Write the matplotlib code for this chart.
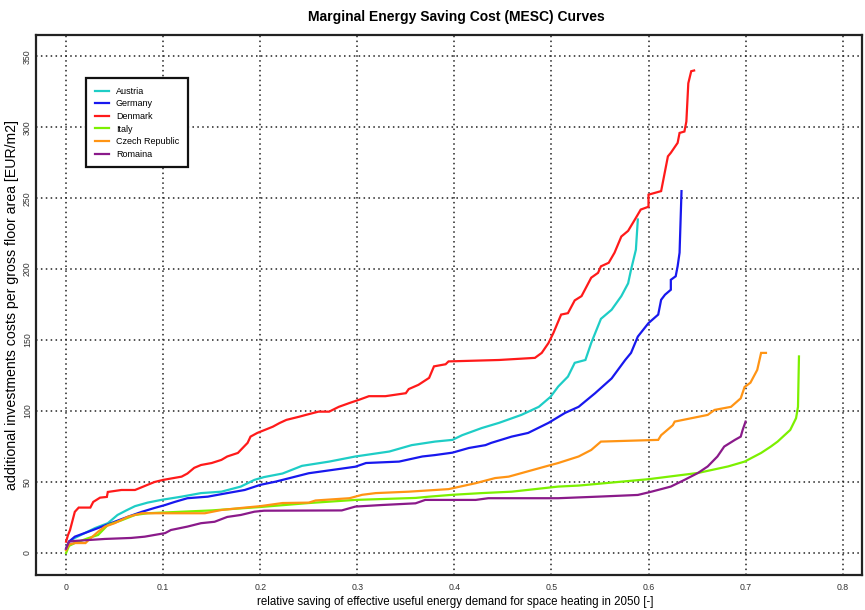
import matplotlib
matplotlib.use("Agg")
import matplotlib.pyplot as plt

# Relative saving (x) and marginal investment cost in EUR/m2 (y) per country
austria_x = [0.0, 0.003, 0.009, 0.03, 0.043, 0.053, 0.062, 0.071, 0.084, 0.098, 0.119, 0.139, 0.16, 0.18,
             0.194, 0.204, 0.223, 0.243, 0.271, 0.298, 0.333, 0.356, 0.38, 0.398, 0.408, 0.428, 0.446,
             0.469, 0.487, 0.499, 0.507, 0.517, 0.524, 0.535, 0.541, 0.551, 0.562, 0.572, 0.579, 0.582,
             0.587, 0.589]
austria_y = [3, 8, 10.6, 17.6, 21, 26.8, 30, 33, 35.5, 37.4, 39.7, 42.2, 43.2, 46.8,
             51.5, 53.5, 56, 61.4, 64.4, 68, 71.5, 76, 78.5, 79.7, 83, 88, 91.7,
             97.3, 103, 110, 117.3, 124.3, 134, 136, 148, 165, 171.4, 181, 190, 199.6,
             213.7, 235]

germany_x = [0.0, 0.003, 0.009, 0.023, 0.037, 0.05, 0.064, 0.078, 0.091, 0.102, 0.112, 0.125, 0.146, 0.166,
             0.184, 0.2, 0.216, 0.25, 0.274, 0.298, 0.309, 0.343, 0.367, 0.38, 0.398, 0.415, 0.432,
             0.438, 0.459, 0.476, 0.497, 0.514, 0.528, 0.545, 0.562, 0.576, 0.582, 0.589, 0.6, 0.61,
             0.613, 0.617, 0.623, 0.623, 0.628, 0.63, 0.632, 0.634]
germany_y = [3, 8, 11.5, 15, 18.6, 22, 25.6, 29, 31.7, 33.8, 36, 38.6, 39.7, 42.2,
             44.4, 48, 50.3, 56.2, 58.5, 60.8, 63.4, 64.4, 68, 69, 70.7, 74, 76,
             77.6, 82, 84.6, 91.7, 98.7, 103, 112.6, 123, 136, 141, 152.5, 162, 168,
             178.4, 182, 185.5, 192.5, 195, 202, 211.6, 255]

denmark_x = [0.0, 0.002, 0.004, 0.009, 0.013, 0.025, 0.028, 0.035, 0.042, 0.043, 0.057, 0.071, 0.081, 0.091,
             0.1, 0.119, 0.125, 0.132, 0.139, 0.15, 0.16, 0.166, 0.177, 0.187, 0.19, 0.197, 0.213,
             0.22, 0.227, 0.24, 0.247, 0.26, 0.271, 0.281, 0.292, 0.302, 0.312, 0.329, 0.35, 0.353,
             0.363, 0.374, 0.379, 0.391, 0.394, 0.446, 0.483, 0.49, 0.497, 0.502, 0.51, 0.517,
             0.524, 0.531, 0.541, 0.548, 0.551, 0.559, 0.565, 0.572, 0.579, 0.586, 0.592, 0.6,
             0.6, 0.613, 0.62, 0.623, 0.63, 0.632, 0.637, 0.639, 0.641, 0.644, 0.647]
denmark_y = [8, 12.7, 16, 29, 32, 32, 36, 39, 39.5, 43, 44.4, 44.4, 47.2, 50,
             51.5, 53.8, 56, 60, 62, 63.4, 65.6, 68, 70.5, 77.6, 82, 84.6, 89,
             91.6, 93.8, 96, 97.3, 99.6, 99.6, 103, 105.7, 108, 110.5, 110.5, 112.6, 115.5,
             118.5, 123.4, 131.5, 133, 135, 136, 137.5, 141, 148, 155, 168, 169,
             178, 181, 194, 197.4, 202, 204.5, 211.6, 223, 227, 235, 242, 244,
             252.5, 255, 279.5, 282, 289, 296, 297, 304, 331, 339.5, 340]

italy_x = [0.0, 0.003, 0.009, 0.023, 0.033, 0.043, 0.057, 0.071, 0.084, 0.1, 0.15, 0.2, 0.25, 0.298,
           0.36, 0.374, 0.398, 0.428, 0.459, 0.507, 0.528, 0.6, 0.651, 0.682, 0.699, 0.716,
           0.726, 0.733, 0.746, 0.752, 0.754, 0.755]
italy_y = [0, 5, 7, 10.5, 12.7, 19.7, 23, 26.8, 28, 28.5, 30, 32.4, 35.2, 37.4,
           38.8, 39.7, 41, 42.2, 43.2, 46.8, 47.5, 52, 56.4, 61, 64.4, 70.5,
           75, 78.5, 86.7, 95, 103, 138.5]

czech_x = [0.0, 0.003, 0.009, 0.02, 0.023, 0.033, 0.04, 0.05, 0.064, 0.078, 0.098, 0.143, 0.16, 0.18,
           0.2, 0.223, 0.25, 0.257, 0.292, 0.305, 0.319, 0.353, 0.394, 0.422, 0.442, 0.456, 0.494,
           0.507, 0.528, 0.541, 0.551, 0.61, 0.613, 0.625, 0.627, 0.661, 0.668, 0.685, 0.695,
           0.699, 0.705, 0.712, 0.716, 0.721]
czech_y = [2, 6, 7, 7, 9, 15, 18.6, 21, 25.6, 28, 28, 28, 30.3, 31.7,
           33, 35.2, 35.5, 37, 38.6, 41, 42.2, 43.2, 45, 49.2, 52.8, 53.8, 61,
           63.4, 68, 72.6, 78.5, 79.7, 83, 90, 92.6, 97.3, 100.8, 103, 109,
           117, 120, 129, 141, 141]

romania_x = [0.0, 0.003, 0.009, 0.04, 0.067, 0.081, 0.091, 0.102, 0.108, 0.125, 0.139, 0.153, 0.166, 0.18,
             0.194, 0.204, 0.284, 0.298, 0.325, 0.36, 0.37, 0.422, 0.435, 0.507, 0.548, 0.589,
             0.603, 0.623, 0.637, 0.651, 0.661, 0.671, 0.678, 0.689, 0.695, 0.697, 0.7]
romania_y = [3, 8, 8.5, 9.9, 10.6, 11.5, 12.7, 14, 16.2, 18.6, 21, 22, 25.4, 26.8,
             29.1, 29.8, 30, 32.7, 33.8, 35, 37.4, 37.4, 38.6, 38.6, 39.7, 40.9,
             43.2, 46.8, 51.5, 56.4, 61, 68, 75, 79.7, 82, 86.7, 92.6]

series = [
    ("Austria", austria_x, austria_y, "#1ECDC6"),
    ("Germany", germany_x, germany_y, "#1818EE"),
    ("Denmark", denmark_x, denmark_y, "#FF1A1A"),
    ("Italy", italy_x, italy_y, "#7CF000"),
    ("Czech Republic", czech_x, czech_y, "#FF9414"),
    ("Romaina", romania_x, romania_y, "#8A1A8A"),
]

x_ticks = [0, 0.1, 0.2, 0.3, 0.4, 0.5, 0.6, 0.7, 0.8]
x_tick_labels = ["0", "0.1", "0.2", "0.3", "0.4", "0.5", "0.6", "0.7", "0.8"]
y_ticks = [0, 50, 100, 150, 200, 250, 300, 350]

font = ["Liberation Sans", "DejaVu Sans"]

fig = plt.figure(figsize=(8.65, 6.10), dpi=100)
ax = fig.add_axes([0.0416, 0.0574, 0.955, 0.8852])

for name, xs, ys, color in series:
    ax.plot(xs, ys, color=color, lw=1.6, label=name, solid_joinstyle="miter")

ax.set_xlim(-0.031, 0.82)
ax.set_ylim(-15.5, 365)
ax.set_xticks(x_ticks)
ax.set_xticklabels(x_tick_labels, fontsize=6.3, family=font, color="#333333")
ax.set_yticks(y_ticks)
ax.set_yticklabels([str(v) for v in y_ticks], fontsize=6.3, family=font,
                   rotation=90, va="center", color="#333333")
ax.tick_params(length=0)
ax.tick_params(axis="x", pad=6)
ax.tick_params(axis="y", pad=3)

ax.grid(True, color="#222222", lw=1.1, linestyle=(0, (1, 2.2)))
ax.set_axisbelow(True)
for sp in ax.spines.values():
    sp.set_linewidth(1.6)
    sp.set_color("#222222")

ax.set_xlabel("relative saving of effective useful energy demand for space heating in 2050 [-]",
              fontsize=8.3, family=font)
ax.xaxis.set_label_coords(0.507, -0.038)
ax.set_ylabel("additional investments costs per gross floor area [EUR/m2]",
              fontsize=10.2, family=font)
ax.yaxis.set_label_coords(-0.021, 0.5)
fig.text(0.528, 0.972, "Marginal Energy Saving Cost (MESC) Curves", ha="center", va="center",
         fontsize=10, fontweight="bold", family=font)

leg = ax.legend(loc="upper left", bbox_to_anchor=(0.0605, 0.92),
                prop={"family": font, "size": 6.5}, frameon=True, fancybox=False,
                handlelength=1.6, handletextpad=0.75, labelspacing=0.4, borderpad=0.95,
                borderaxespad=0)
leg.get_frame().set_edgecolor("#111111")
leg.get_frame().set_linewidth(1.6)
leg.get_frame().set_alpha(1)

fig.savefig("out.png", dpi=100)
